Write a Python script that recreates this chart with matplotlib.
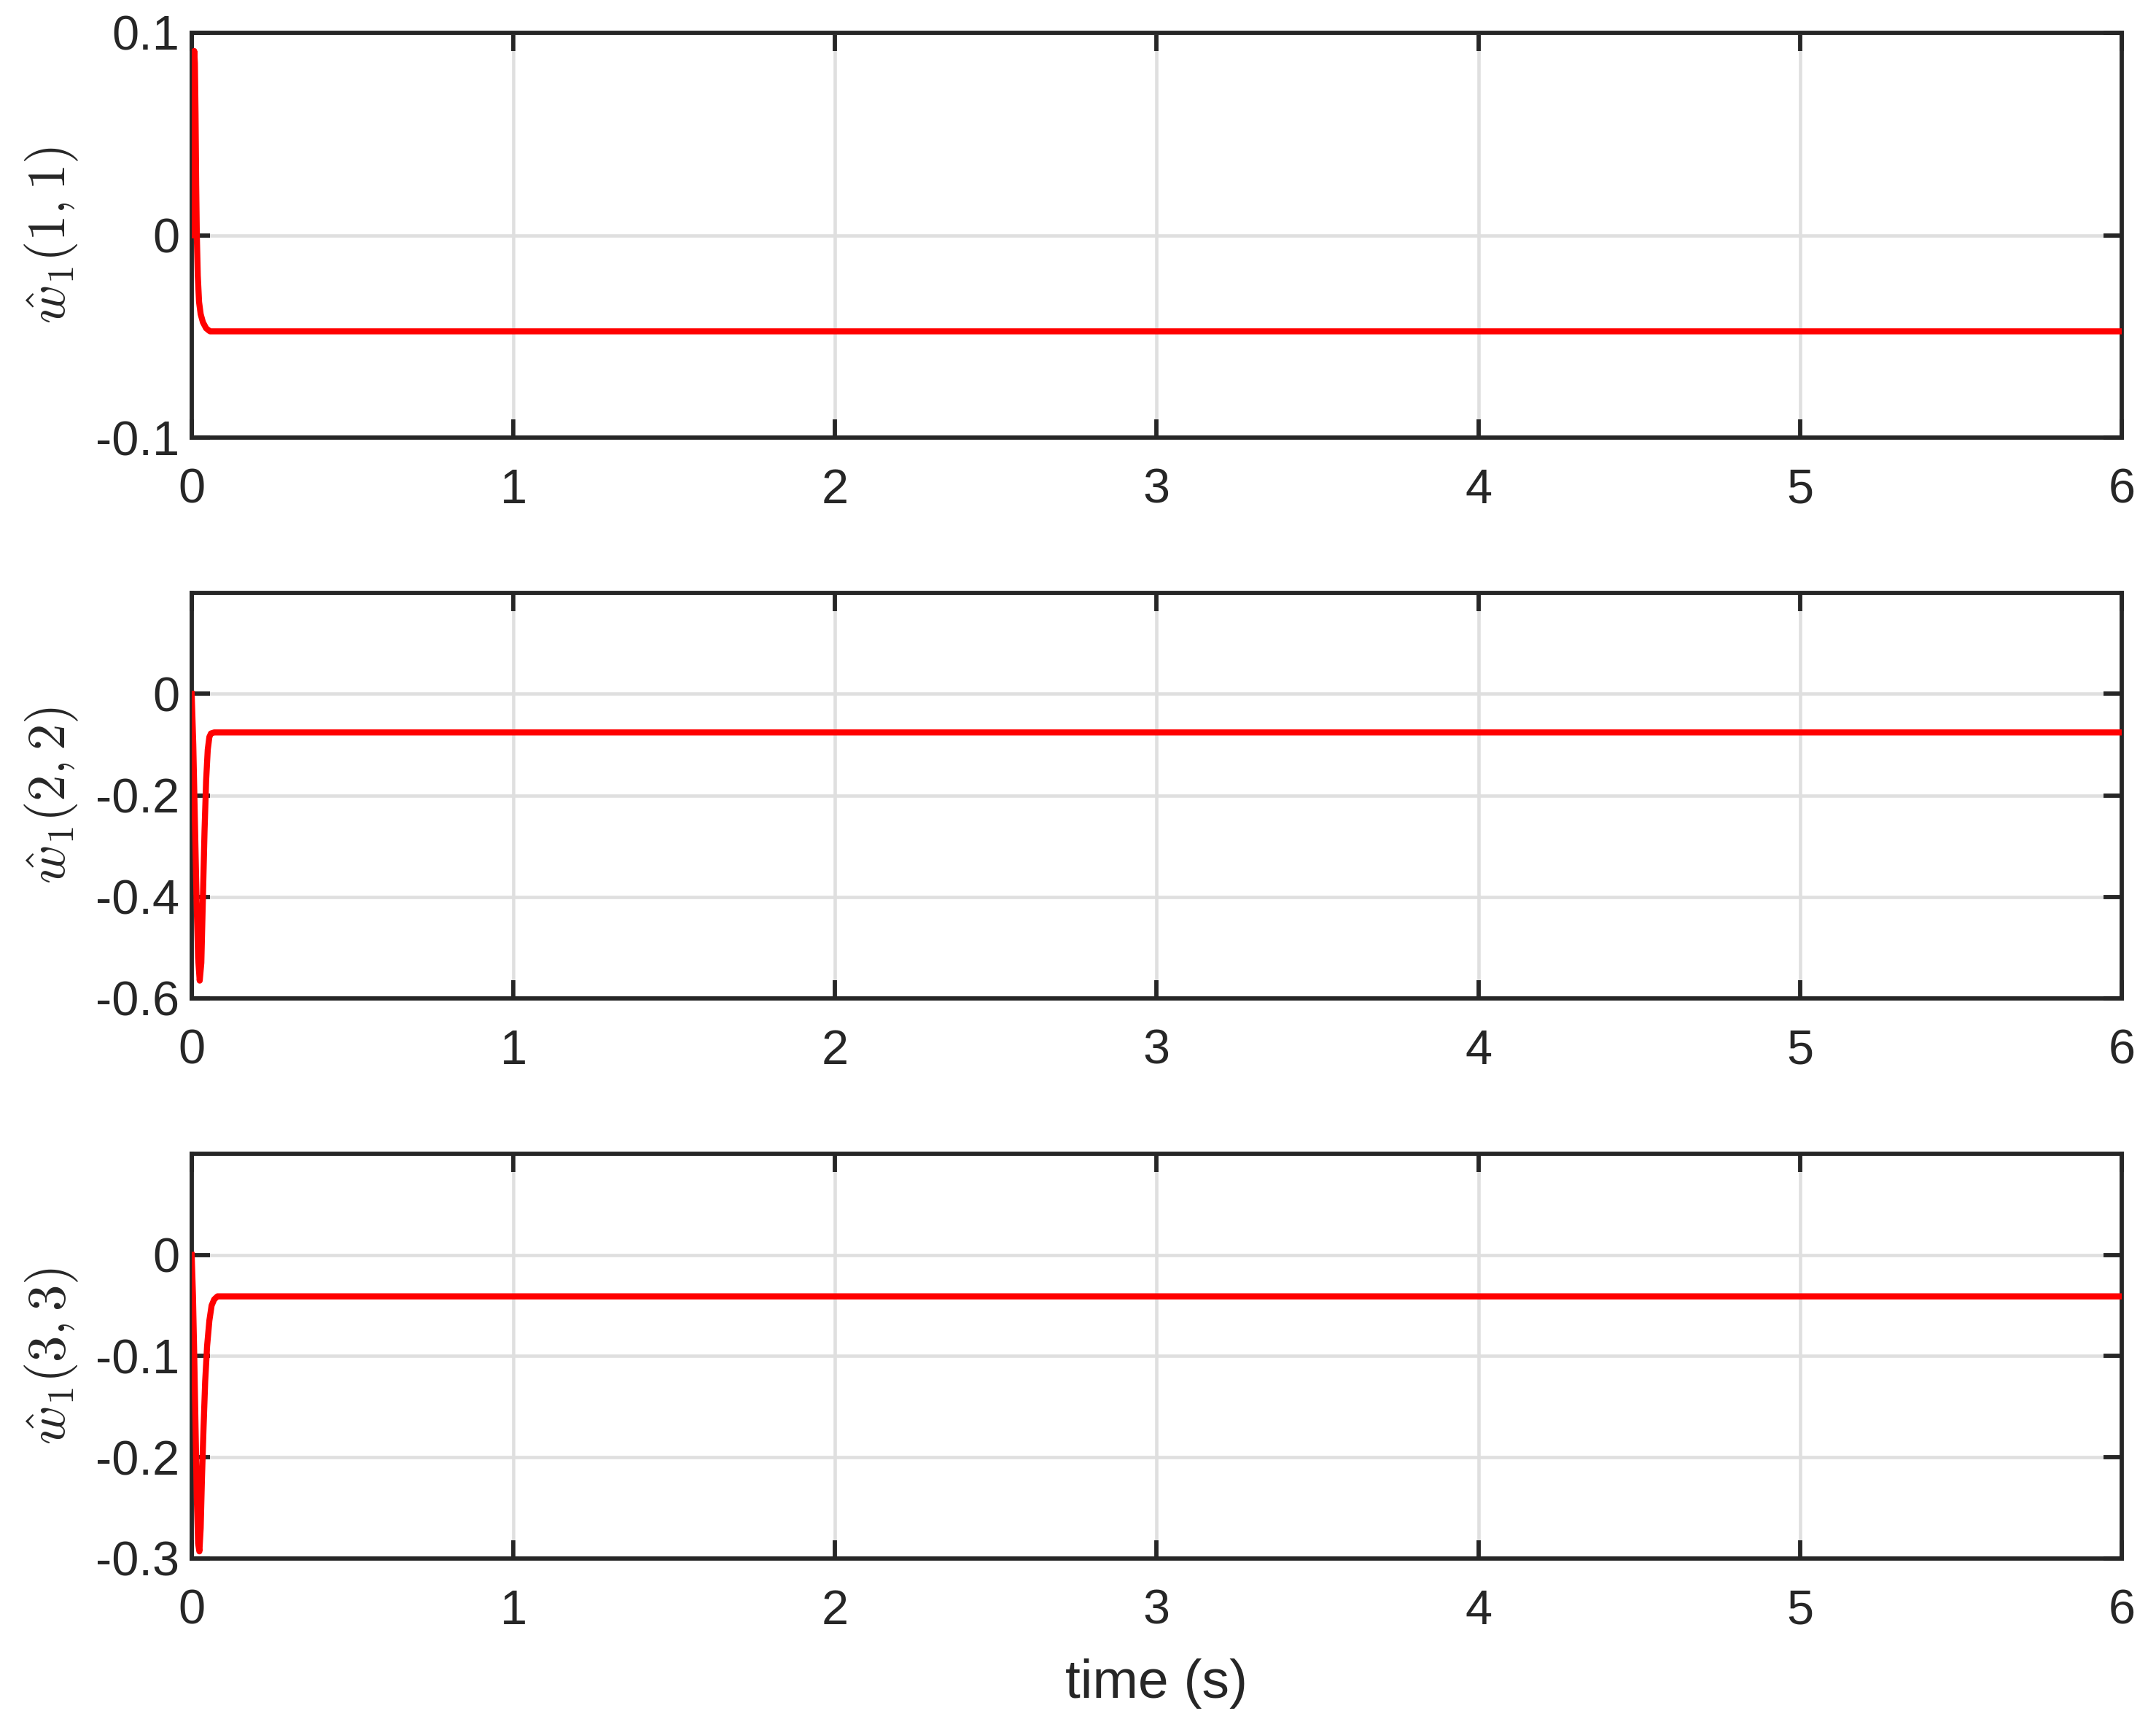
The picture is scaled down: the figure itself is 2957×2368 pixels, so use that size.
import matplotlib
matplotlib.use("Agg")
import matplotlib.pyplot as plt
import numpy as np

plt.rcParams['font.family'] = ['Liberation Sans', 'DejaVu Sans']
plt.rcParams['mathtext.fontset'] = 'cm'
plt.rcParams['axes.unicode_minus'] = False

# w1(1,1)
t11 = [0, 0.002, 0.004, 0.006, 0.008, 0.010, 0.012, 0.014, 0.016, 0.019,
       0.023, 0.028, 0.035, 0.045, 0.057, 6.0]
w11 = [0, 0.03, 0.06, 0.082, 0.091, 0.085, 0.06, 0.025, 0.0, -0.02,
       -0.033, -0.039, -0.043, -0.046, -0.0475, -0.0475]

# w1(2,2)
t22 = [0, 0.005, 0.010, 0.015, 0.020, 0.025, 0.030, 0.035, 0.040, 0.045,
       0.050, 0.055, 0.060, 0.070, 6.0]
w22 = [0, -0.1, -0.25, -0.4, -0.52, -0.565, -0.53, -0.4, -0.27, -0.17,
       -0.11, -0.085, -0.078, -0.076, -0.076]

# w1(3,3)
t33 = [0, 0.004, 0.008, 0.012, 0.016, 0.020, 0.024, 0.028, 0.032, 0.037,
       0.042, 0.048, 0.055, 0.062, 0.070, 0.080, 6.0]
w33 = [0, -0.04, -0.1, -0.17, -0.24, -0.285, -0.293, -0.27, -0.22, -0.17,
       -0.125, -0.09, -0.065, -0.05, -0.044, -0.041, -0.041]

labels = [r'$\hat{w}_1(1,1)$', r'$\hat{w}_1(2,2)$', r'$\hat{w}_1(3,3)$']
ylims = [(-0.1, 0.1), (-0.6, 0.199), (-0.3, 0.0999)]
yticks = [[-0.1, 0, 0.1], [-0.6, -0.4, -0.2, 0], [-0.3, -0.2, -0.1, 0]]
ytlabels = [['-0.1', '0', '0.1'], ['-0.6', '-0.4', '-0.2', '0'],
            ['-0.3', '-0.2', '-0.1', '0']]
xticks = [0, 1, 2, 3, 4, 5, 6]

series = [(t11, w11), (t22, w22), (t33, w33)]
boxes = [(0.0889, 0.7466, 0.8952, 0.2344),
         (0.0889, 0.4219, 0.8952, 0.2348),
         (0.0889, 0.0976, 0.8952, 0.2343)]

dark = '#262626'
fig = plt.figure(figsize=(2957 / 300, 2368 / 300), dpi=300)

for i in range(3):
    ax = fig.add_axes(boxes[i])
    t, w = series[i]
    ax.plot(t, w, color='red', lw=2.0, zorder=3)
    ax.set_xlim(0, 6)
    ax.set_ylim(*ylims[i])
    ax.set_xticks(xticks)
    ax.set_xticklabels([str(x) for x in xticks])
    ax.set_yticks(yticks[i])
    ax.set_yticklabels(ytlabels[i])
    ax.grid(True, color='#dfdfdf', lw=1.1, zorder=0)
    ax.set_axisbelow(True)
    for s in ax.spines.values():
        s.set_color(dark)
        s.set_linewidth(1.4)
    ax.tick_params(direction='in', length=6, width=1.4, colors=dark,
                   labelsize=16, top=True, right=True)
    ax.tick_params(axis='x', pad=10)
    ax.tick_params(axis='y', pad=4)
    ax.set_ylabel(labels[i], fontsize=17.5, color=dark, labelpad=5)
    if i == 2:
        ax.set_xlabel('time (s)', fontsize=18, color=dark, labelpad=8)

fig.savefig('out.png', dpi=300)
